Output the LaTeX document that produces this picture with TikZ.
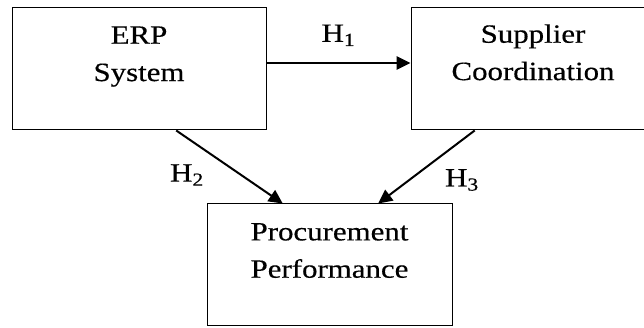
\documentclass[tikz,border=0pt]{standalone}
\usepackage{fontspec}
\setmainfont{Liberation Serif}[FakeStretch=1.17, FakeBold=0.4]
\usetikzlibrary{arrows.meta, calc, positioning}

\tikzset{
  box/.style={draw, line width=0.75pt, minimum height=91.5pt, inner sep=0pt},
  txt/.style={align=center, inner sep=0pt, font=\fontsize{19.8}{28}\selectfont},
  hyp/.style={inner sep=0pt, font=\fontsize{19.8}{28}\selectfont},
  arr/.style={-{Triangle[length=10.5pt,width=10pt]}, line width=1.5pt}
}

\begin{document}
\begin{tikzpicture}[x=0.75pt,y=0.75pt]

        % Khung hình
        \useasboundingbox (0,0) rectangle (644,328);
        \clip (0,0) rectangle (644,328);

        % Vẽ các hộp
        \node[box, minimum width=190.5pt] (erp) at (139,259) {}; % Hộp ERP
        \node[box, minimum width=183pt] (sup) at (533,259) {}; % Hộp nhà cung cấp
        \node[box, minimum width=183.75pt] (proc) at (329.5,63) {}; % Hộp mua hàng

        % Chữ trong hộp
        \node[txt, anchor=north] (erptxt) at ([yshift=-14pt]erp.north) {ERP\\System};
        \node[txt, anchor=north] (suptxt) at ([yshift=-12.5pt]sup.north) {Supplier\\Coordination};
        \node[txt, anchor=north] (proctxt) at ([yshift=-14.5pt]proc.north) {Procurement\\Performance};

        % Vẽ các mũi tên
        \draw[arr] ([yshift=4.5pt]erp.east) -- ([yshift=4.5pt]sup.west)
            node[midway, above=12pt, hyp] (h1) {H\textsubscript{1}}; % H1
        \draw[arr] ($(erp.south west)!0.646!(erp.south east)$) -- ($(proc.north west)!0.31!(proc.north east)$); % H2
        \draw[arr] ($(sup.south west)!0.262!(sup.south east)$) -- ($(proc.north west)!0.698!(proc.north east)$); % H3

        % Nhãn giả thuyết
        \node[hyp] (h2) at (187,153) {H\textsubscript{2}};
        \node[hyp] (h3) at (462,148) {H\textsubscript{3}};

\end{tikzpicture}
\end{document}
